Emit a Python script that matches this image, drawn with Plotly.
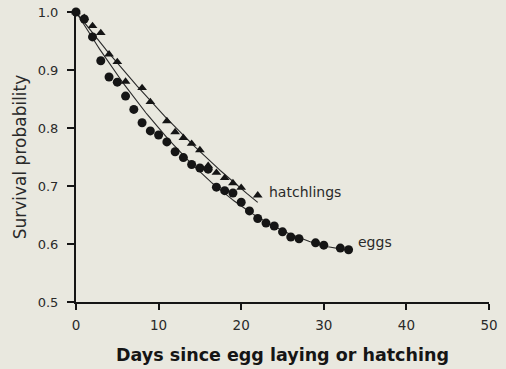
import numpy as np
import plotly.graph_objects as go

# Daily survival estimates (proportion still alive)
egg_days = [0, 1, 2, 3, 4, 5, 6, 7, 8, 9, 10, 11, 12, 13, 14, 15, 16, 17, 18, 19,
            20, 21, 22, 23, 24, 25, 26, 27, 29, 30, 32, 33]
egg_surv = [1.0, 0.988, 0.957, 0.916, 0.888, 0.879, 0.855, 0.832, 0.809, 0.795,
            0.788, 0.776, 0.759, 0.749, 0.737, 0.731, 0.729, 0.698, 0.692, 0.688,
            0.672, 0.657, 0.644, 0.636, 0.631, 0.621, 0.612, 0.609, 0.602, 0.598,
            0.593, 0.590]

hatch_days = [0, 1, 2, 3, 4, 5, 6, 8, 9, 11, 12, 13, 14, 15, 16, 17, 18, 19, 20, 22]
hatch_surv = [1.0, 0.990, 0.976, 0.964, 0.927, 0.914, 0.880, 0.869, 0.845, 0.812,
              0.793, 0.783, 0.773, 0.762, 0.735, 0.723, 0.714, 0.705, 0.697, 0.684]

# Fitted survival curves: S(t) = c0 + c1*t + c2*t^2
egg_fit_coeffs = [1.0, -0.02333, 0.00033]
hatch_fit_coeffs = [1.0, -0.01846, 0.000161]

x_ticks = [0, 10, 20, 30, 40, 50]
y_ticks = [0.5, 0.6, 0.7, 0.8, 0.9, 1.0]
y_tick_text = ["0.5", "0.6", "0.7", "0.8", "0.9", "1.0"]

BG = "#e9e8df"
INK = "#151515"
FONT = "DejaVu Sans"


def fit_curve(coeffs, t_max):
    t = np.linspace(0, t_max, 200)
    return t, coeffs[0] + coeffs[1] * t + coeffs[2] * t ** 2


fig = go.Figure()

t_egg, s_egg = fit_curve(egg_fit_coeffs, max(egg_days))
t_hat, s_hat = fit_curve(hatch_fit_coeffs, max(hatch_days))

fig.add_trace(go.Scatter(x=t_egg, y=s_egg, mode="lines",
                         line=dict(color="#2a2a2a", width=1.1), showlegend=False,
                         hoverinfo="skip", cliponaxis=False))
fig.add_trace(go.Scatter(x=t_hat, y=s_hat, mode="lines",
                         line=dict(color="#2a2a2a", width=1.1), showlegend=False,
                         hoverinfo="skip", cliponaxis=False))

fig.add_trace(go.Scatter(x=egg_days, y=egg_surv, mode="markers", name="eggs",
                         marker=dict(symbol="circle", size=9, color=INK),
                         showlegend=False, cliponaxis=False))
fig.add_trace(go.Scatter(x=hatch_days, y=hatch_surv, mode="markers", name="hatchlings",
                         marker=dict(symbol="triangle-up", size=8.5, color=INK),
                         showlegend=False, cliponaxis=False))

# Series labels beside the last observation of each series
fig.add_annotation(x=hatch_days[-1], y=hatch_surv[-1], text="hatchlings",
                   showarrow=False, xanchor="left", yanchor="middle", xshift=9, yshift=3,
                   font=dict(family=FONT, size=14, color="#2a2a2a"))
fig.add_annotation(x=egg_days[-1], y=egg_surv[-1], text="eggs",
                   showarrow=False, xanchor="left", yanchor="middle", xshift=7, yshift=8,
                   font=dict(family=FONT, size=14, color="#2a2a2a"))

fig.update_layout(
    width=506, height=369, autosize=False,
    margin=dict(l=76, r=17, t=12, b=67),
    paper_bgcolor=BG, plot_bgcolor=BG,
    font=dict(family=FONT, color="#2a2a2a"),
    xaxis=dict(
        range=[0, 50], tickvals=x_ticks, ticks="outside", ticklen=6, tickwidth=1.5,
        tickcolor=INK, showline=True, linecolor=INK, linewidth=1.6, showgrid=False,
        zeroline=False, tickfont=dict(family=FONT, size=13.5, color="#2a2a2a"),
        ticklabelstandoff=4, automargin=False,
        title=dict(text="<b>Days since egg laying or hatching</b>",
                   font=dict(family=FONT, size=17.5, color=INK), standoff=17),
    ),
    yaxis=dict(
        range=[0.5, 1.0], tickvals=y_ticks, ticktext=y_tick_text, ticks="outside",
        ticklen=7, tickwidth=1.5, tickcolor=INK, showline=True, linecolor=INK,
        linewidth=2, showgrid=False, zeroline=False, automargin=False,
        tickfont=dict(family=FONT, size=13, color="#2a2a2a"), ticklabelstandoff=6,
        title=dict(text="Survival probability",
                   font=dict(family=FONT, size=17, color="#2a2a2a"), standoff=7),
    ),
)

fig.write_html("out.html")
